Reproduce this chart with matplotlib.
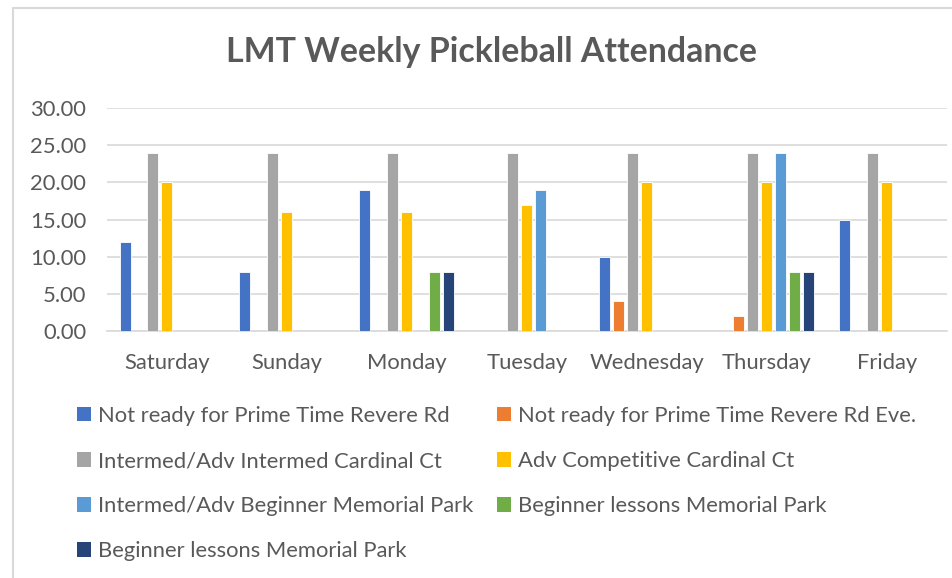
import numpy as np
import matplotlib
matplotlib.use("Agg")
import matplotlib.pyplot as plt
from matplotlib.patches import Rectangle, Patch

plt.rcParams['font.family'] = ['Lato', 'DejaVu Sans']

days = ['Saturday', 'Sunday', 'Monday', 'Tuesday', 'Wednesday', 'Thursday', 'Friday']

series_names = [
    'Not ready for Prime Time Revere Rd',
    'Not ready for Prime Time Revere Rd Eve.',
    'Intermed/Adv Intermed Cardinal Ct',
    'Adv Competitive Cardinal Ct',
    'Intermed/Adv Beginner Memorial Park',
    'Beginner lessons Memorial Park',
    'Beginner lessons Memorial Park',
]

not_ready = [12, 8, 19, 0, 10, 0, 15]
not_ready_eve = [0, 0, 0, 0, 4, 2, 0]
intermed_adv = [24, 24, 24, 24, 24, 24, 24]
adv_competitive = [20, 16, 16, 17, 20, 20, 20]
intermed_beginner = [0, 0, 0, 19, 0, 24, 0]
beginner_lessons = [0, 0, 8, 0, 0, 8, 0]
beginner_lessons2 = [0, 0, 8, 0, 0, 8, 0]

colors = ['#4472C4', '#ED7D31', '#A5A5A5', '#FFC000', '#5B9BD5', '#70AD47', '#264478']

all_series = [not_ready, not_ready_eve, intermed_adv, adv_competitive,
              intermed_beginner, beginner_lessons, beginner_lessons2]

fig = plt.figure(figsize=(9.53, 5.78), dpi=100)
ax = fig.add_axes([107 / 953, 1 - 331 / 578, 840 / 953, 223 / 578])

x = np.arange(len(days))
stride = 14 / 120
width = 11 / 120
for i, (vals, col) in enumerate(zip(all_series, colors)):
    v = np.array(vals, dtype=float)
    v[v == 0] = np.nan  # Excel draws nothing for zero
    ax.bar(x + (i - 3) * stride, v, width, color=col, edgecolor='white',
           linewidth=0.6, zorder=3)

ax.set_xlim(-0.5, len(days) - 0.5)
ax.set_ylim(0, 30)
ax.set_yticks(np.arange(0, 31, 5))
ax.set_yticklabels([f'{t:.2f}' for t in np.arange(0, 31, 5)])
ax.set_xticks(x)
ax.set_xticklabels(days)
ax.tick_params(length=0, labelsize=15.8, colors='#595959')
ax.tick_params(axis='x', pad=16)
ax.tick_params(axis='y', pad=15)
ax.grid(axis='y', color='#D9D9D9', linewidth=1.2, zorder=0)
for s in ['top', 'right', 'left']:
    ax.spines[s].set_visible(False)
ax.spines['bottom'].set_color('#D9D9D9')
ax.spines['bottom'].set_linewidth(1.2)

fig.text(492 / 953, 1 - 52 / 578, 'LMT Weekly Pickleball Attendance',
         ha='center', va='center', fontsize=24.4, fontweight='bold', color='#595959')

# legend, filled row by row
handles = [Patch(facecolor=c) for c in colors]
order = [0, 2, 4, 6, 1, 3, 5]
leg = fig.legend([handles[i] for i in order], [series_names[i] for i in order],
                 loc='upper left', bbox_to_anchor=(68 / 953, 1 - 397 / 578),
                 ncol=2, frameon=False, fontsize=15.8, labelcolor='#595959',
                 handlelength=0.65, handleheight=0.65, handletextpad=0.3,
                 labelspacing=1.15, columnspacing=1.1, borderaxespad=0)

fig.patches.append(Rectangle((13 / 953, -0.1), 1.1, 1 - 8 / 578 + 0.1,
                             transform=fig.transFigure, fill=False,
                             edgecolor='#D9D9D9', linewidth=1.5))

fig.savefig('out.png', dpi=100)
